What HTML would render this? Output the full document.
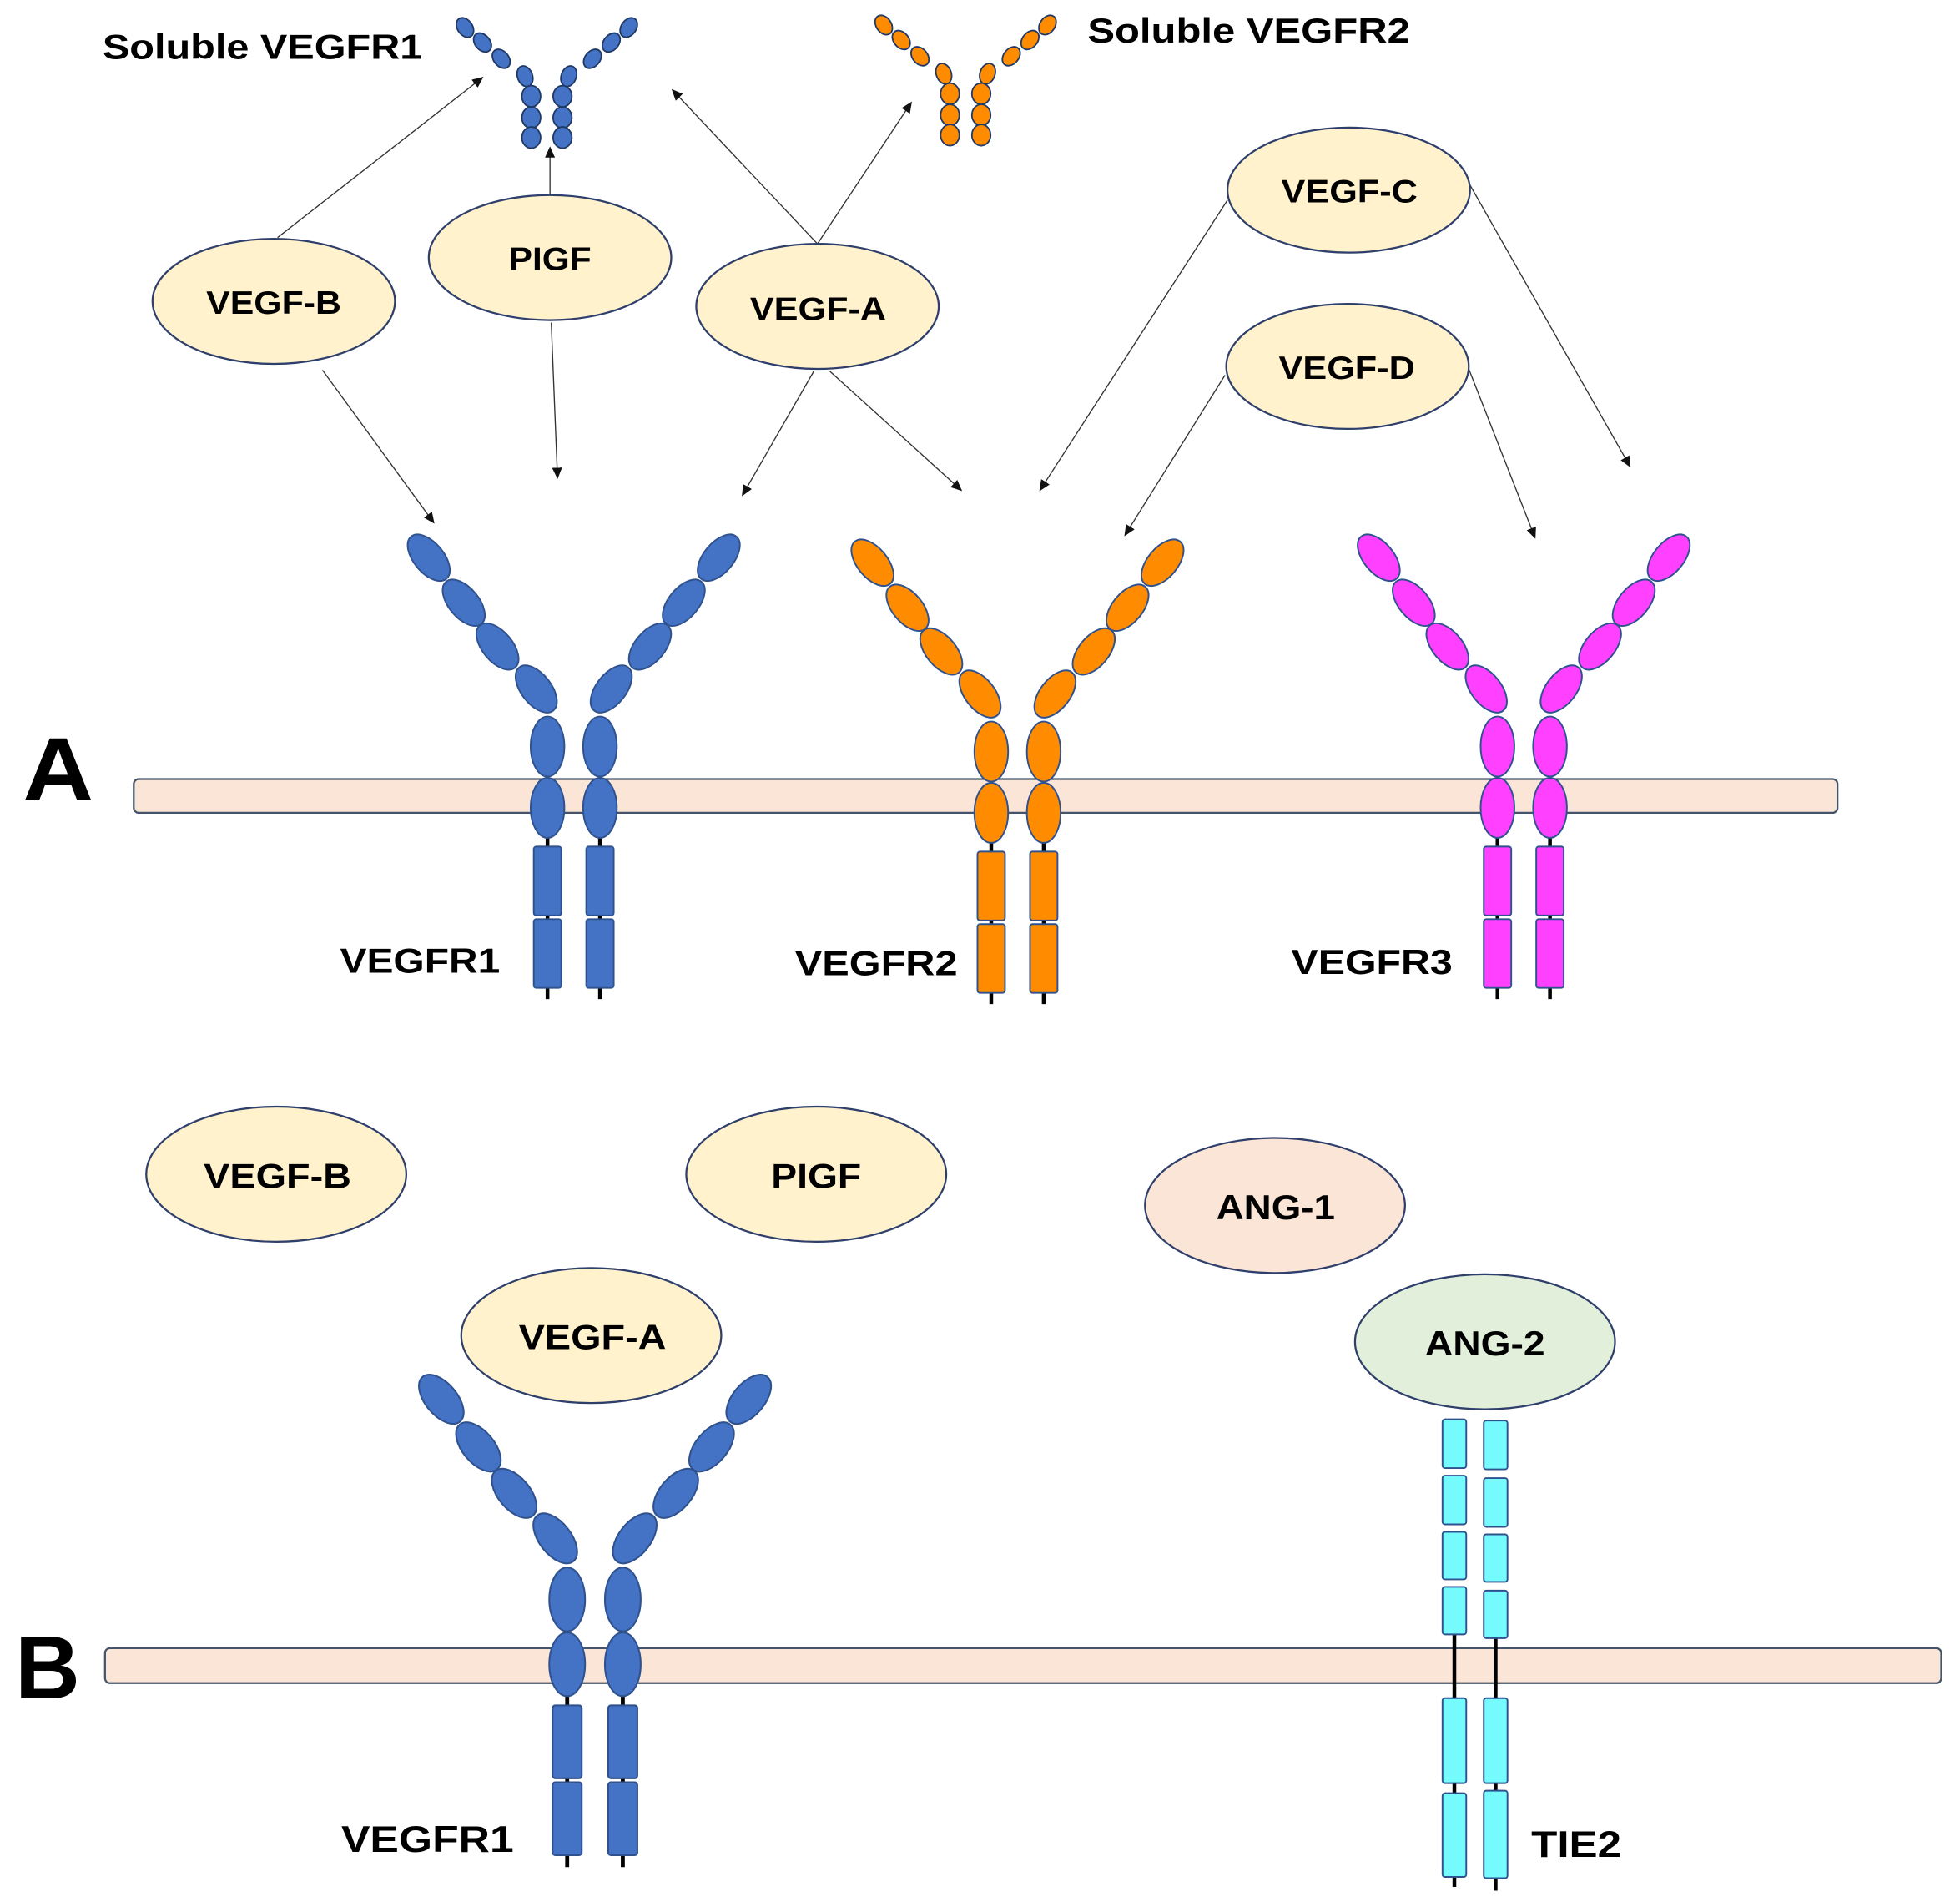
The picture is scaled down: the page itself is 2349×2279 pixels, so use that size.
<!DOCTYPE html>
<html><head><meta charset="utf-8"><style>
html,body{margin:0;padding:0;background:#fff;}
svg{display:block;}
text{font-family:"Liberation Sans",Arial,sans-serif;font-weight:bold;fill:#000;}
</style></head><body>
<svg width="2349" height="2279" viewBox="0 0 1568 1521" preserveAspectRatio="none" xmlns="http://www.w3.org/2000/svg">
<defs>
<marker id="ah" markerWidth="9" markerHeight="8" refX="8" refY="4" orient="auto" markerUnits="userSpaceOnUse">
<path d="M0,0 L9,4 L0,8 Z" fill="#111"/>
</marker>
<g id="arm">
<ellipse cx="-116" cy="-151" rx="22" ry="12" transform="rotate(50 -116 -151)"/>
<ellipse cx="-88" cy="-115" rx="22" ry="12" transform="rotate(50 -88 -115)"/>
<ellipse cx="-61" cy="-80" rx="22" ry="12" transform="rotate(50 -61 -80)"/>
<ellipse cx="-30" cy="-46" rx="22" ry="12" transform="rotate(52 -30 -46)"/>
<line x1="-21" y1="60" x2="-21" y2="202" stroke="#000" stroke-width="3"/>
<ellipse cx="-21" cy="0" rx="13.5" ry="24"/>
<ellipse cx="-21" cy="49" rx="13.5" ry="24"/>
<rect x="-32" y="80" width="22" height="55" rx="2"/>
<rect x="-32" y="138" width="22" height="55" rx="2"/>
</g>
<g id="rec">
<use href="#arm"/>
<use href="#arm" transform="scale(-1,1)"/>
</g>
<g id="sarm">
<ellipse cx="-53" cy="-55" rx="6" ry="8.5" transform="rotate(-35 -53 -55)"/>
<ellipse cx="-39" cy="-43" rx="6" ry="8.5" transform="rotate(-40 -39 -43)"/>
<ellipse cx="-24" cy="-30" rx="6" ry="8.5" transform="rotate(-40 -24 -30)"/>
<ellipse cx="-5" cy="-16" rx="6" ry="8.5" transform="rotate(-20 -5 -16)"/>
<ellipse cx="0" cy="0" rx="7.5" ry="8.5"/>
<ellipse cx="0" cy="17" rx="7.5" ry="8.5"/>
<ellipse cx="0" cy="33" rx="7.5" ry="8.5"/>
</g>
</defs>

<rect x="107" y="623" width="1363" height="27" rx="4" fill="#fbe5d6" stroke="#44546a" stroke-width="1.5"/>
<rect x="84" y="1318" width="1469" height="28" rx="4" fill="#fbe5d6" stroke="#44546a" stroke-width="1.5"/>

<text x="18" y="640" font-size="72" textLength="57" lengthAdjust="spacingAndGlyphs">A</text>
<text x="12" y="1358" font-size="72" textLength="52" lengthAdjust="spacingAndGlyphs">B</text>

<g fill="#4472c4" stroke="#1f3864" stroke-width="1.2">
<use href="#sarm" transform="translate(425,77)"/>
<use href="#sarm" transform="translate(450,77) scale(-1,1)"/>
</g>
<g fill="#ff8c00" stroke="#1f3864" stroke-width="1.2">
<use href="#sarm" transform="translate(760,75)"/>
<use href="#sarm" transform="translate(785,75) scale(-1,1)"/>
</g>
<text x="82" y="47" font-size="28" textLength="256" lengthAdjust="spacingAndGlyphs">Soluble VEGFR1</text>
<text x="870" y="34" font-size="28" textLength="258" lengthAdjust="spacingAndGlyphs">Soluble VEGFR2</text>

<g stroke="#333" stroke-width="0.9" fill="none" marker-end="url(#ah)">
<line x1="222" y1="190" x2="386" y2="62"/>
<line x1="440" y1="156" x2="440" y2="118"/>
<line x1="654" y1="195" x2="538" y2="72"/>
<line x1="654" y1="195" x2="729" y2="82"/>
<line x1="258" y1="296" x2="347" y2="418"/>
<line x1="441" y1="258" x2="446" y2="382"/>
<line x1="651" y1="297" x2="594" y2="396"/>
<line x1="664" y1="297" x2="769" y2="392"/>
<line x1="982" y1="160" x2="832" y2="392"/>
<line x1="1176" y1="148" x2="1304" y2="373"/>
<line x1="980" y1="300" x2="900" y2="428"/>
<line x1="1175" y1="295" x2="1228" y2="430"/>
</g>

<g fill="#fff2cc" stroke="#2f3f6b" stroke-width="1.5">
<ellipse cx="219" cy="241" rx="97" ry="50"/>
<ellipse cx="440" cy="206" rx="97" ry="50"/>
<ellipse cx="654" cy="245" rx="97" ry="50"/>
<ellipse cx="1079" cy="152" rx="97" ry="50"/>
<ellipse cx="1078" cy="293" rx="97" ry="50"/>
</g>
<g font-size="26" lengthAdjust="spacingAndGlyphs">
<text x="165" y="251" textLength="108" lengthAdjust="spacingAndGlyphs">VEGF-B</text>
<text x="407" y="216" textLength="66" lengthAdjust="spacingAndGlyphs">PIGF</text>
<text x="600" y="256" textLength="109" lengthAdjust="spacingAndGlyphs">VEGF-A</text>
<text x="1025" y="162" textLength="109" lengthAdjust="spacingAndGlyphs">VEGF-C</text>
<text x="1023" y="303" textLength="109" lengthAdjust="spacingAndGlyphs">VEGF-D</text>
</g>

<g fill="#4472c4" stroke="#2f528f" stroke-width="1.3"><use href="#rec" transform="translate(459,597)"/></g>
<g fill="#ff8c00" stroke="#2f528f" stroke-width="1.3"><use href="#rec" transform="translate(814,601)"/></g>
<g fill="#ff40ff" stroke="#2f528f" stroke-width="1.3"><use href="#rec" transform="translate(1219,597)"/></g>
<g font-size="28">
<text x="272" y="778" textLength="128" lengthAdjust="spacingAndGlyphs">VEGFR1</text>
<text x="636" y="780" textLength="130" lengthAdjust="spacingAndGlyphs">VEGFR2</text>
<text x="1033" y="779" textLength="129" lengthAdjust="spacingAndGlyphs">VEGFR3</text>
</g>

<g stroke="#2f3f6b" stroke-width="1.5">
<ellipse cx="221" cy="939" rx="104" ry="54" fill="#fff2cc"/>
<ellipse cx="653" cy="939" rx="104" ry="54" fill="#fff2cc"/>
<ellipse cx="1020" cy="964" rx="104" ry="54" fill="#fbe5d6"/>
<ellipse cx="473" cy="1068" rx="104" ry="54" fill="#fff2cc"/>
<ellipse cx="1188" cy="1073" rx="104" ry="54" fill="#e2efda"/>
</g>
<g font-size="28">
<text x="163" y="950" textLength="118" lengthAdjust="spacingAndGlyphs">VEGF-B</text>
<text x="617" y="950" textLength="72" lengthAdjust="spacingAndGlyphs">PIGF</text>
<text x="973" y="975" textLength="95" lengthAdjust="spacingAndGlyphs">ANG-1</text>
<text x="415" y="1079" textLength="118" lengthAdjust="spacingAndGlyphs">VEGF-A</text>
<text x="1140" y="1084" textLength="96" lengthAdjust="spacingAndGlyphs">ANG-2</text>
</g>

<g fill="#4472c4" stroke="#2f528f" stroke-width="1.3"><use href="#rec" transform="translate(476,1279) scale(1.06)"/></g>
<text x="273" y="1481" font-size="30" textLength="138" lengthAdjust="spacingAndGlyphs">VEGFR1</text>

<g stroke="#000" stroke-width="3">
<line x1="1163.5" y1="1300" x2="1163.5" y2="1509"/>
<line x1="1196.5" y1="1303" x2="1196.5" y2="1512"/>
</g>
<g fill="#75fbfd" stroke="#2f528f" stroke-width="1.3">
<rect x="1154" y="1135" width="19" height="39" rx="2"/>
<rect x="1154" y="1180" width="19" height="39" rx="2"/>
<rect x="1154" y="1225" width="19" height="38" rx="2"/>
<rect x="1154" y="1269" width="19" height="38" rx="2"/>
<rect x="1154" y="1358" width="19" height="68" rx="2"/>
<rect x="1154" y="1434" width="19" height="67" rx="2"/>
<rect x="1187" y="1136" width="19" height="39" rx="2"/>
<rect x="1187" y="1182" width="19" height="39" rx="2"/>
<rect x="1187" y="1227" width="19" height="38" rx="2"/>
<rect x="1187" y="1272" width="19" height="38" rx="2"/>
<rect x="1187" y="1358" width="19" height="68" rx="2"/>
<rect x="1187" y="1432" width="19" height="70" rx="2"/>
</g>
<text x="1225" y="1485" font-size="30" textLength="72" lengthAdjust="spacingAndGlyphs">TIE2</text>
</svg>
</body></html>
